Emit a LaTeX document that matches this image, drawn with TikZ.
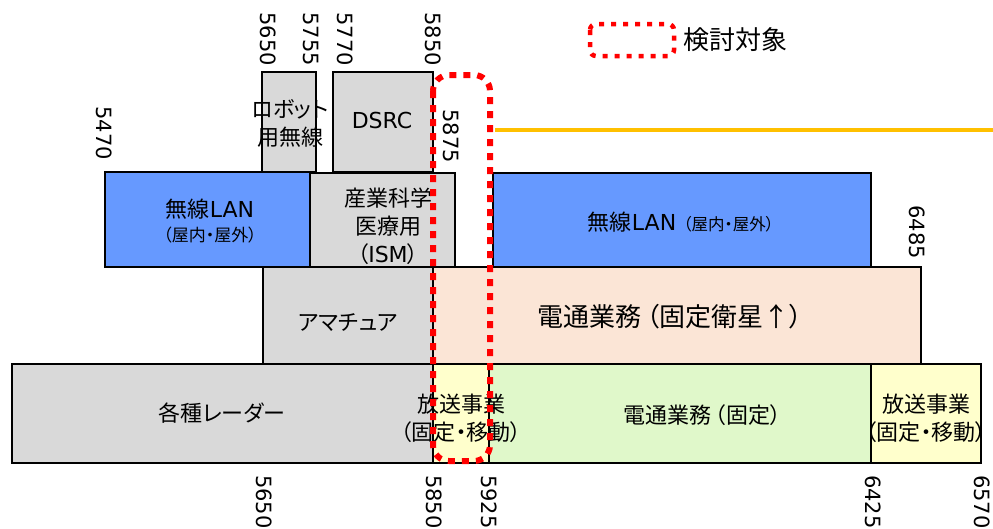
\documentclass[tikz,border=0pt]{standalone}
\usepackage{fontspec}
\setmainfont{DejaVu Sans}
\newfontfamily\jp[RawFeature=+palt]{Noto Sans CJK JP}
\usepackage{tikz}

\definecolor{bandgray}{HTML}{D9D9D9}
\definecolor{lanblue}{HTML}{6699FF}
\definecolor{satpeach}{HTML}{FBE5D6}
\definecolor{fixgreen}{HTML}{E0F8CA}
\definecolor{bcyellow}{HTML}{FFFFCC}
\definecolor{lineorange}{HTML}{FFC000}

\tikzset{
  band/.style={draw=black, line width=1.5pt},
  freq/.style={rotate=-90, inner sep=0pt, font=\fontsize{21}{24}\selectfont},
  txt/.style={align=center, inner sep=0pt, font=\jp\fontsize{22}{28}\selectfont},
}

\begin{document}
\begin{tikzpicture}[x=1pt, y=-1pt]
		\useasboundingbox (0,0) rectangle (993,528);

		% upper row
		\draw[band, fill=bandgray] (262,72) rectangle (316,172);
		\draw[band, fill=bandgray] (333,72) rectangle (433,172);
		\node[txt] (robot) at (290,123) {ロボット\\用無線};
		\node[txt, font=\fontsize{22}{28}\selectfont] (dsrc) at (382,120) {DSRC};

		% wireless lan and ism
		\draw[band, fill=lanblue] (105,172) rectangle (310,267);
		\draw[band, fill=bandgray] (310,173) rectangle (455,267);
		\draw[band, fill=lanblue] (493,173) rectangle (871,267);
		\node[txt] (lanL) at (210,221) {無線{\rmfamily LAN}\\[-4pt]{\fontsize{17}{20}\selectfont （屋内・屋外）}};
		\node[txt] (ism) at (388,226) {産業科学\\医療用\\（{\rmfamily ISM}）};
		\node[txt] (lanR) at (681,222) {無線{\rmfamily LAN}\hspace{7pt}{\fontsize{16.5}{20}\selectfont （屋内・屋外）}};

		% amateur and satellite
		\draw[band, fill=bandgray] (263,267) rectangle (433,364);
		\draw[band, fill=satpeach] (433,267) rectangle (921,364);
		\node[txt] (amateur) at (348,323) {アマチュア};
		\node[txt, font=\jp\fontsize{26}{30}\selectfont] (sat) at (670,317) {電通業務\hspace{5pt}（固定衛星↑）};

		% bottom row
		\draw[band, fill=bandgray] (12,364) rectangle (433,463);
		\draw[band, fill=bcyellow] (433,364) rectangle (489,463);
		\draw[band, fill=fixgreen] (489,364) rectangle (871,463);
		\draw[band, fill=bcyellow] (871,364) rectangle (981,463);
		\node[txt] (radar) at (222,413) {各種レーダー};
		\node[txt] (bcL) at (461,418) {放送事業\\（固定・移動）};
		\node[txt] (fixed) at (702,415) {電通業務\hspace{4pt}（固定）};
		\node[txt] (bcR) at (926,418) {放送事業\\（固定・移動）};

		% orange line
		\draw[lineorange, line width=4pt] (495,130) -- (993,130);

		% target
		\draw[red, line width=6pt, dash pattern=on 7pt off 7pt, rounded corners=16pt] (433,75) rectangle (490,461);
		\draw[red, line width=4.5pt, dash pattern=on 5pt off 7pt, rounded corners=6pt] (590,24) rectangle (674,56);
		\node[txt, font=\jp\fontsize{26}{30}\selectfont, anchor=west] (legend) at (683,40) {検討対象};

		% frequencies
		\node[freq, anchor=east] (t5650) at (268,66) {5650};
		\node[freq, anchor=east] (t5755) at (311,66) {5755};
		\node[freq, anchor=east] (t5770) at (345,66) {5770};
		\node[freq, anchor=east] (t5850) at (433,66) {5850};
		\node[freq, anchor=east] (t5470) at (104,160) {5470};
		\node[freq, anchor=east] (t5875) at (451,163) {5875};
		\node[freq, anchor=east] (t6485) at (917,259) {6485};
		\node[freq, anchor=west] (b5650) at (264,475) {5650};
		\node[freq, anchor=west] (b5850) at (434,475) {5850};
		\node[freq, anchor=west] (b5925) at (489,475) {5925};
		\node[freq, anchor=west] (b6425) at (873,475) {6425};
		\node[freq, anchor=west] (b6570) at (982,475) {6570};
	\end{tikzpicture}
\end{document}
